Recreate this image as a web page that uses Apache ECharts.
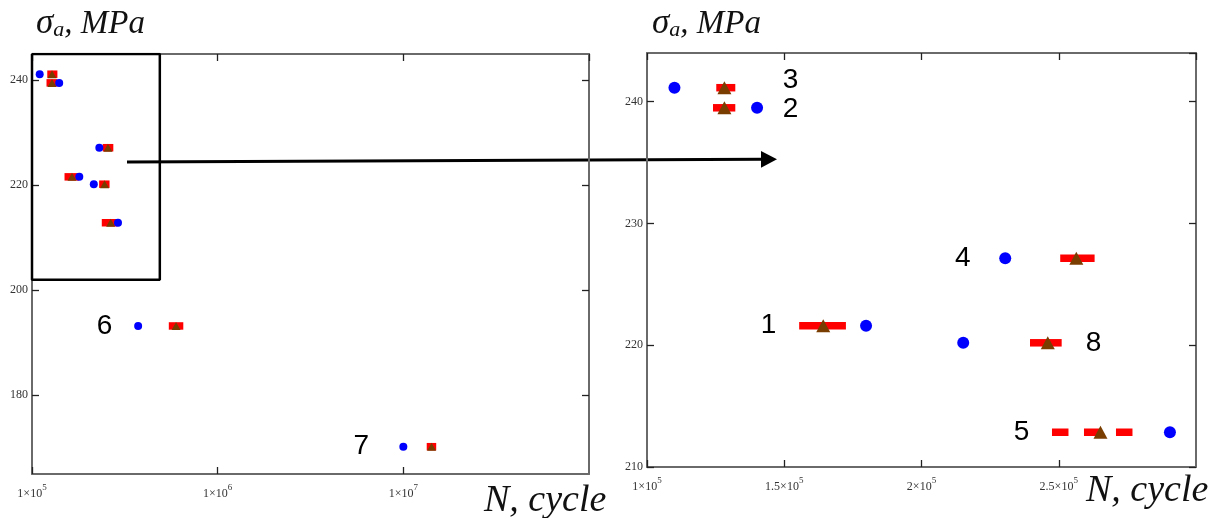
<!DOCTYPE html>
<html><head><meta charset="utf-8">
<script src="https://cdn.jsdelivr.net/npm/echarts@6/dist/echarts.min.js"></script>
<style>html,body{margin:0;padding:0;background:#fff}#c{width:1218px;height:518px}</style>
</head><body><div id="c"></div>
<script>
// ---------- data ----------
const specimens   = ['1', '2', '3', '4', '5', '6', '7', '8'];
const stress      = [221.6, 239.5, 241.15, 227.15, 212.86, 193.2, 170.2, 220.2];     // MPa
const expCycles   = [1.798e5, 1.401e5, 1.10e5, 2.305e5, 2.905e5, 3.73e5, 1.0e7, 2.152e5];
const predCycles  = [1.642e5, 1.282e5, 1.282e5, 2.564e5, 2.652e5, 5.97e5, 1.419e7, 2.46e5];
const predLow     = [1.568e5, 1.254e5, 1.266e5, 2.519e5, 2.489e5, 5.715e5, 1.40e7, 2.409e5];
const predHigh    = [1.711e5, 1.308e5, 1.308e5, 2.617e5, 2.757e5, 6.233e5, 1.435e7, 2.497e5];
// annotation label anchors (data coordinates)
const leftLabelSpec  = ['6', '7'];
const leftLabelX     = [2.46e5, 5.93e6];
const leftLabelY     = [193.2, 170.2];
const rightLabelSpec = ['1', '2', '3', '4', '5', '8'];
const rightLabelX    = [1.443e5, 1.523e5, 1.523e5, 2.15e5, 2.364e5, 2.627e5];
const rightLabelY    = [221.65, 239.37, 241.76, 227.16, 212.82, 220.14];
// zoom window drawn on the overview panel
const zoomBoxX = [1e5, 4.88e5];
const zoomBoxY = [202, 245];
// axis ticks
const leftXTicks  = [1e5, 1e6, 1e7];
const leftYTicks  = [180, 200, 220, 240];
const rightXTicks = [1e5, 1.5e5, 2e5, 2.5e5];
const rightYTicks = [210, 220, 230, 240];

// ---------- style ----------
const dashedSpecimens = ['5'];
const RED = '#ff0000', BLUE = '#0000ff', BROWN = '#7a3d00';
const SERIF = "'Liberation Serif','Times New Roman',serif";
const SANS = "'Liberation Sans',Arial,sans-serif";
const AXIS_COLOR = '#6a6a6a';

const chart = echarts.init(document.getElementById('c'));

function supLabel(mant, exp) {
  return '{m|' + mant + '×10}{s|' + exp + '}';
}
const richTick = {
  m: {fontFamily: SERIF, fontSize: 12, color: '#333', lineHeight: 17, verticalAlign: 'bottom'},
  s: {fontFamily: SERIF, fontSize: 9, color: '#333', lineHeight: 17, verticalAlign: 'top'}
};

function baseAxis(extra) {
  return Object.assign({
    axisLine: {show: true, onZero: false, lineStyle: {color: AXIS_COLOR, width: 2}},
    axisTick: {show: true, inside: true, length: 7, lineStyle: {color: '#222', width: 1.3}},
    splitLine: {show: false},
    axisLabel: {show: false}
  }, extra);
}

function idxInRight(i) {
  return expCycles[i] >= 1e5 && expCycles[i] <= 3e5 && stress[i] >= 210 && stress[i] <= 244;
}
const allIdx = specimens.map((_, i) => i);
const rightIdx = allIdx.filter(idxInRight);

function barRender(width) {
  return function (params, api) {
    const lo = api.coord([api.value(0), api.value(2)]);
    const hi = api.coord([api.value(1), api.value(2)]);
    const dashed = dashedSpecimens.indexOf(specimens[api.value(3)]) >= 0;
    return {
      type: 'line',
      shape: {x1: lo[0], y1: lo[1], x2: hi[0], y2: hi[1]},
      style: {stroke: RED, lineWidth: width, lineCap: 'square', lineDash: dashed ? [9, 23] : null}
    };
  };
}

const labelStyle = {show: true, position: 'inside', fontFamily: SANS, fontSize: 28, color: '#000',
                    formatter: p => p.data[2]};

const nameRich = {
  g: {fontFamily: SERIF, fontStyle: 'italic', fontSize: 35, lineHeight: 44, fill: '#111', verticalAlign: 'bottom'},
  sub: {fontFamily: SERIF, fontStyle: 'italic', fontSize: 22, lineHeight: 40, fill: '#111', verticalAlign: 'bottom'},
  t: {fontFamily: SERIF, fontStyle: 'italic', fontSize: 33, lineHeight: 44, fill: '#111', verticalAlign: 'bottom'}
};

const option = {
  animation: false,
  backgroundColor: '#fff',
  grid: [
    {left: 32, top: 54, width: 557, height: 420},
    {left: 647, top: 53, width: 549, height: 414}
  ],
  xAxis: [
    baseAxis({gridIndex: 0, type: 'log', logBase: 10, min: 1e5, max: 1e8, position: 'bottom',
      axisLabel: {show: true, margin: 9, showMaxLabel: false, rich: richTick,
        formatter: v => {
          if (!leftXTicks.some(t => Math.abs(t - v) / t < 1e-6)) return '';
          return supLabel('1', Math.round(Math.log10(v)));
        }}}),
    baseAxis({gridIndex: 0, type: 'log', logBase: 10, min: 1e5, max: 1e8, position: 'top'}),
    baseAxis({gridIndex: 1, type: 'value', min: 1e5, max: 3e5, interval: 5e4, position: 'bottom',
      axisLabel: {show: true, margin: 9, showMaxLabel: false, rich: richTick,
        formatter: v => {
          if (!rightXTicks.some(t => Math.abs(t - v) < 1)) return '';
          return supLabel(String(+(v / 1e5).toFixed(2)), 5);
        }}}),
    baseAxis({gridIndex: 1, type: 'value', min: 1e5, max: 3e5, interval: 5e4, position: 'top'})
  ],
  yAxis: [
    baseAxis({gridIndex: 0, type: 'value', min: 165, max: 245, position: 'left',
      axisTick: {show: true, inside: true, length: 7, customValues: leftYTicks, lineStyle: {color: '#222', width: 1.3}},
      axisLabel: {show: true, margin: 4, customValues: leftYTicks, fontFamily: SERIF, fontSize: 12, color: '#333'}}),
    baseAxis({gridIndex: 0, type: 'value', min: 165, max: 245, position: 'right',
      axisTick: {show: true, inside: true, length: 7, customValues: leftYTicks, lineStyle: {color: '#222', width: 1.3}}}),
    baseAxis({gridIndex: 1, type: 'value', min: 210, max: 244, interval: 10, position: 'left',
      axisLabel: {show: true, margin: 4, showMaxLabel: false, fontFamily: SERIF, fontSize: 12, color: '#333',
        formatter: v => rightYTicks.indexOf(v) >= 0 ? String(v) : ''}}),
    baseAxis({gridIndex: 1, type: 'value', min: 210, max: 244, interval: 10, position: 'right'})
  ],
  series: [
    // ----- left (overview, log scale) -----
    {type: 'line', xAxisIndex: 0, yAxisIndex: 0, silent: true, symbol: 'none', z: 1,
      lineStyle: {color: '#000', width: 2.5},
      data: [[zoomBoxX[0], zoomBoxY[1]], [zoomBoxX[1], zoomBoxY[1]], [zoomBoxX[1], zoomBoxY[0]], [zoomBoxX[0], zoomBoxY[0]], [zoomBoxX[0], zoomBoxY[1]]]},
    {type: 'custom', xAxisIndex: 0, yAxisIndex: 0, renderItem: barRender(7.5), z: 2,
      data: allIdx.map(i => [predLow[i], predHigh[i], stress[i], i])},
    {type: 'scatter', xAxisIndex: 0, yAxisIndex: 0, symbol: 'triangle', symbolSize: [9, 8], z: 3,
      itemStyle: {color: BROWN, opacity: 1}, data: allIdx.map(i => [predCycles[i], stress[i]])},
    {type: 'scatter', xAxisIndex: 0, yAxisIndex: 0, symbol: 'circle', symbolSize: 8, z: 4,
      itemStyle: {color: BLUE, opacity: 1}, data: allIdx.map(i => [expCycles[i], stress[i]])},
    {type: 'scatter', xAxisIndex: 0, yAxisIndex: 0, symbolSize: 0, z: 5, label: labelStyle,
      itemStyle: {opacity: 1},
      data: leftLabelSpec.map((s, k) => [leftLabelX[k], leftLabelY[k], s])},
    // ----- right (zoom, linear scale) -----
    {type: 'custom', xAxisIndex: 2, yAxisIndex: 2, renderItem: barRender(7.5), z: 2,
      data: rightIdx.map(i => [predLow[i], predHigh[i], stress[i], i])},
    {type: 'scatter', xAxisIndex: 2, yAxisIndex: 2, symbol: 'triangle', symbolSize: [14, 13], z: 3,
      itemStyle: {color: BROWN, opacity: 1}, data: rightIdx.map(i => [predCycles[i], stress[i]])},
    {type: 'scatter', xAxisIndex: 2, yAxisIndex: 2, symbol: 'circle', symbolSize: 12, z: 4,
      itemStyle: {color: BLUE, opacity: 1}, data: rightIdx.map(i => [expCycles[i], stress[i]])},
    {type: 'scatter', xAxisIndex: 2, yAxisIndex: 2, symbolSize: 0, z: 5, label: labelStyle,
      itemStyle: {opacity: 1},
      data: rightLabelSpec.map((s, k) => [rightLabelX[k], rightLabelY[k], s])}
  ],
  graphic: [
    // axis names
    {type: 'text', left: 36, top: 6, style: {text: '{g|σ}{sub|a}{t|, MPa}', rich: nameRich}},
    {type: 'text', left: 652, top: 6, style: {text: '{g|σ}{sub|a}{t|, MPa}', rich: nameRich}},
    {type: 'text', left: 484, top: 482, style: {text: 'N, cycle', font: 'italic 38px ' + SERIF, fill: '#111'}},
    {type: 'text', left: 1086, top: 472, style: {text: 'N, cycle', font: 'italic 38px ' + SERIF, fill: '#111'}},
    // arrow from the zoom box to the enlarged panel
    {type: 'line', shape: {x1: 127, y1: 162, x2: 763, y2: 159.3}, style: {stroke: '#000', lineWidth: 3}},
    {type: 'polygon', shape: {points: [[761, 151], [777, 159.3], [761, 167.7]]}, style: {fill: '#000'}}
  ]
};
chart.setOption(option);
</script>
</body></html>
